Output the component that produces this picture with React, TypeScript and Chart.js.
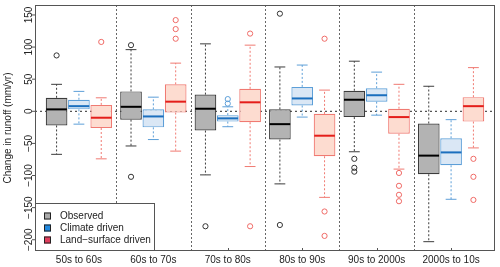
import React, { useEffect, useRef } from "react";
import { Chart, registerables } from "chart.js";
Chart.register(...registerables);

const FONT = '"Liberation Sans", Arial, Helvetica, sans-serif';

const GROUPS = ["50s to 60s", "60s to 70s", "70s to 80s", "80s to 90s", "90s to 2000s", "2000s to 10s"];
const SERIES = ["Observed", "Climate driven", "Land\u2212surface driven"];
const Y_TICKS = [150, 100, 50, 0, -50, -100, -150, -200];
const Y_TITLE = "Change in runoff (mm/yr)";

// Observed
const OBS_LOW = [-67, -54, -99, -113, -63, -203];
const OBS_Q1 = [-22, -13, -30, -44, -9, -98];
const OBS_MED = [3, 7, 4, -20, 18, -69];
const OBS_Q3 = [21, 31, 26, 3, 32, -19];
const OBS_HIGH = [42, 96, 105, 69, 78, 39];
const OBS_OUT = [[87], [103, -102], [-179], [152, -177], [-74, -88, -94], []];

// Climate driven
const CLI_LOW = [-20, -44, -24, -9, -6, -137];
const CLI_Q1 = [3, -25, -16, 9, 15, -84];
const CLI_MED = [8, -8, -11, 20, 25, -64];
const CLI_Q3 = [18, 3, -6, 38, 36, -42];
const CLI_HIGH = [31, 22, 7, 72, 61, -13];
const CLI_OUT = [[], [], [19, 12], [], [], []];

// Land-surface driven
const LAND_LOW = [-74, -62, -86, -134, -90, -57];
const LAND_Q1 = [-26, -2, -17, -70, -35, -16];
const LAND_MED = [-10, 15, 14, -38, -9, 8];
const LAND_Q3 = [10, 42, 35, -4, 4, 22];
const LAND_HIGH = [21, 75, 103, 33, 42, 68];
const LAND_OUT = [[108], [142, 128, 113], [121, -179], [113, -156, -194], [-96, -116, -130, -140], [-74, -102, -138]];

const Y_MIN = -217.5;
const Y_MAX = 165.5;

const BOXES = [
  { low: OBS_LOW, q1: OBS_Q1, med: OBS_MED, q3: OBS_Q3, high: OBS_HIGH, out: OBS_OUT },
  { low: CLI_LOW, q1: CLI_Q1, med: CLI_MED, q3: CLI_Q3, high: CLI_HIGH, out: CLI_OUT },
  { low: LAND_LOW, q1: LAND_Q1, med: LAND_MED, q3: LAND_Q3, high: LAND_HIGH, out: LAND_OUT },
];

const STYLES = [
  { fill: "#b3b3b3", border: "#3c3c3c", median: "#000000", whisker: "#3c3c3c", outlier: "#333333", swatch: "#aaaaaa" },
  { fill: "#dae7f5", border: "#5d9fd8", median: "#1b6fbe", whisker: "#5d9fd8", outlier: "#5d9fd8", swatch: "#2089e0" },
  { fill: "#fddcd0", border: "#f07a72", median: "#e41e1a", whisker: "#f07a72", outlier: "#ef6a66", swatch: "#e03d5c" },
];

const OFFSET = 0.3;

const fmt = (v: number) => (v < 0 ? "\u2212" + Math.abs(v) : String(v));

const extras = {
  id: "boxExtras",
  beforeDatasetsDraw(chart: any) {
    const { ctx, chartArea: a, scales } = chart;
    const x = scales.x, y = scales.y;
    ctx.save();
    // separators
    ctx.strokeStyle = "#666";
    ctx.lineWidth = 1;
    ctx.setLineDash([2, 2]);
    for (let i = 0; i < GROUPS.length - 1; i++) {
      const px = Math.round(x.getPixelForValue(i + 0.5)) + 0.5;
      ctx.beginPath();
      ctx.moveTo(px, a.top);
      ctx.lineTo(px, a.bottom);
      ctx.stroke();
    }
    // zero line
    ctx.strokeStyle = "#555";
    ctx.setLineDash([2, 3]);
    ctx.lineWidth = 1.3;
    const pz = y.getPixelForValue(0);
    ctx.beginPath();
    ctx.moveTo(a.left, pz);
    ctx.lineTo(a.right, pz);
    ctx.stroke();
    // whiskers and caps
    BOXES.forEach((b, k) => {
      const meta = chart.getDatasetMeta(k);
      meta.data.forEach((el: any, i: number) => {
        const cx = el.x;
        const w = el.width;
        ctx.strokeStyle = STYLES[k].whisker;
        ctx.lineWidth = 1;
        ctx.setLineDash([2, 2]);
        ctx.beginPath();
        ctx.moveTo(cx, y.getPixelForValue(b.q3[i]));
        ctx.lineTo(cx, y.getPixelForValue(b.high[i]));
        ctx.moveTo(cx, y.getPixelForValue(b.q1[i]));
        ctx.lineTo(cx, y.getPixelForValue(b.low[i]));
        ctx.stroke();
        ctx.setLineDash([]);
        ctx.beginPath();
        const ph = y.getPixelForValue(b.high[i]);
        const pl = y.getPixelForValue(b.low[i]);
        ctx.moveTo(cx - w / 4, ph);
        ctx.lineTo(cx + w / 4, ph);
        ctx.moveTo(cx - w / 4, pl);
        ctx.lineTo(cx + w / 4, pl);
        ctx.stroke();
      });
    });
    ctx.restore();
  },
  afterDatasetsDraw(chart: any) {
    const { ctx, scales } = chart;
    const y = scales.y;
    ctx.save();
    BOXES.forEach((b, k) => {
      const meta = chart.getDatasetMeta(k);
      meta.data.forEach((el: any, i: number) => {
        const cx = el.x;
        const w = el.width;
        const pm = y.getPixelForValue(b.med[i]);
        ctx.strokeStyle = STYLES[k].median;
        ctx.lineWidth = 2;
        ctx.beginPath();
        ctx.moveTo(cx - w / 2 + 0.5, pm);
        ctx.lineTo(cx + w / 2 - 0.5, pm);
        ctx.stroke();
      });
    });
    ctx.restore();
  },
  afterDraw(chart: any) {
    const { ctx, chartArea: a, scales } = chart;
    const x = scales.x, y = scales.y;
    ctx.save();
    // plot border
    ctx.strokeStyle = "#555";
    ctx.lineWidth = 1;
    ctx.setLineDash([]);
    ctx.strokeRect(Math.round(a.left) + 0.5, Math.round(a.top) + 0.5, Math.round(a.right - a.left) - 1, Math.round(a.bottom - a.top) - 1);
    // y ticks + labels
    ctx.fillStyle = "#222";
    ctx.font = "10px " + FONT;
    ctx.textAlign = "center";
    ctx.textBaseline = "middle";
    Y_TICKS.forEach((v) => {
      const py = y.getPixelForValue(v);
      ctx.beginPath();
      ctx.moveTo(a.left - 3, py);
      ctx.lineTo(a.left, py);
      ctx.stroke();
      ctx.save();
      ctx.translate(a.left - 6, py);
      ctx.rotate(-Math.PI / 2);
      ctx.fillText(fmt(v), 0, 0);
      ctx.restore();
    });
    // x ticks
    GROUPS.forEach((_, i) => {
      const px = Math.round(x.getPixelForValue(i)) + 0.5;
      ctx.beginPath();
      ctx.moveTo(px, a.bottom - 3);
      ctx.lineTo(px, a.bottom);
      ctx.stroke();
    });
    // legend
    const lx = Math.round(a.left) + 0.5, ly = 203.5, lw = 119, lh = Math.round(a.bottom) - 204;
    ctx.fillStyle = "#fff";
    ctx.fillRect(lx, ly, lw, lh);
    ctx.strokeStyle = "#555";
    ctx.strokeRect(lx, ly, lw, lh);
    ctx.textAlign = "left";
    SERIES.forEach((s, k) => {
      const cy = 216 + k * 12;
      ctx.fillStyle = STYLES[k].swatch;
      ctx.fillRect(44, cy - 3.5, 7, 7);
      ctx.strokeStyle = "#222";
      ctx.strokeRect(44.5, cy - 3, 6, 6);
      ctx.fillStyle = "#222";
      ctx.fillText(s, 60, cy + 0.5);
    });
    ctx.restore();
  },
};

export default function App() {
  const ref = useRef<HTMLCanvasElement>(null);
  useEffect(() => {
    const barSets = BOXES.map((b, k) => ({
      type: "bar" as const,
      label: SERIES[k],
      data: GROUPS.map((_, i) => ({ x: i, y: [b.q1[i], b.q3[i]] })),
      backgroundColor: STYLES[k].fill,
      borderColor: STYLES[k].border,
      borderWidth: 1.2,
      borderSkipped: false,
      categoryPercentage: 0.9,
      barPercentage: 0.97,
      order: 2,
    }));
    const outSets = BOXES.map((b, k) => ({
      type: "scatter" as const,
      label: SERIES[k] + " outliers",
      data: b.out.flatMap((arr, i) => arr.map((v) => ({ x: i + (k - 1) * OFFSET, y: v }))),
      pointStyle: "circle",
      pointRadius: 2.6,
      pointBorderWidth: 1,
      pointBackgroundColor: "rgba(0,0,0,0)",
      pointBorderColor: STYLES[k].outlier,
      order: 1,
    }));
    const chart = new Chart(ref.current as HTMLCanvasElement, {
      type: "bar",
      data: { datasets: [...barSets, ...outSets] as any },
      options: {
        responsive: false,
        animation: false,
        devicePixelRatio: 1,
        layout: { padding: { left: 0, right: 4, top: 4.5, bottom: 0 } },
        plugins: { legend: { display: false }, tooltip: { enabled: false } },
        scales: {
          x: {
            type: "linear",
            min: -0.59,
            max: 5.59,
            offset: false,
            grid: { display: false, drawTicks: false },
            border: { display: false },
            afterBuildTicks: (s: any) => {
              s.ticks = GROUPS.map((_, i) => ({ value: i }));
            },
            afterFit: (s: any) => {
              s.height = 16;
            },
            ticks: {
              autoSkip: false,
              maxRotation: 0,
              minRotation: 0,
              padding: 3,
              color: "#222",
              font: { size: 10, family: FONT },
              callback: (v: any) => GROUPS[Math.round(Number(v))],
            },
          },
          y: {
            type: "linear",
            min: Y_MIN,
            max: Y_MAX,
            grid: { display: false, drawTicks: false },
            border: { display: false },
            afterBuildTicks: (s: any) => {
              s.ticks = Y_TICKS.map((v) => ({ value: v }));
            },
            afterFit: (s: any) => {
              s.width = 35;
            },
            ticks: { display: false },
            title: {
              display: true,
              text: Y_TITLE,
              color: "#222",
              font: { size: 10, family: FONT },
              padding: { top: 2, bottom: 0 },
            },
          },
        },
      } as any,
      plugins: [extras],
    });
    return () => chart.destroy();
  }, []);
  return (
    <div style={{ position: "fixed", left: 0, top: 0, width: 500, height: 267, background: "#fff" }}>
      <canvas ref={ref} width={500} height={267} style={{ display: "block", width: 500, height: 267 }} />
    </div>
  );
}
